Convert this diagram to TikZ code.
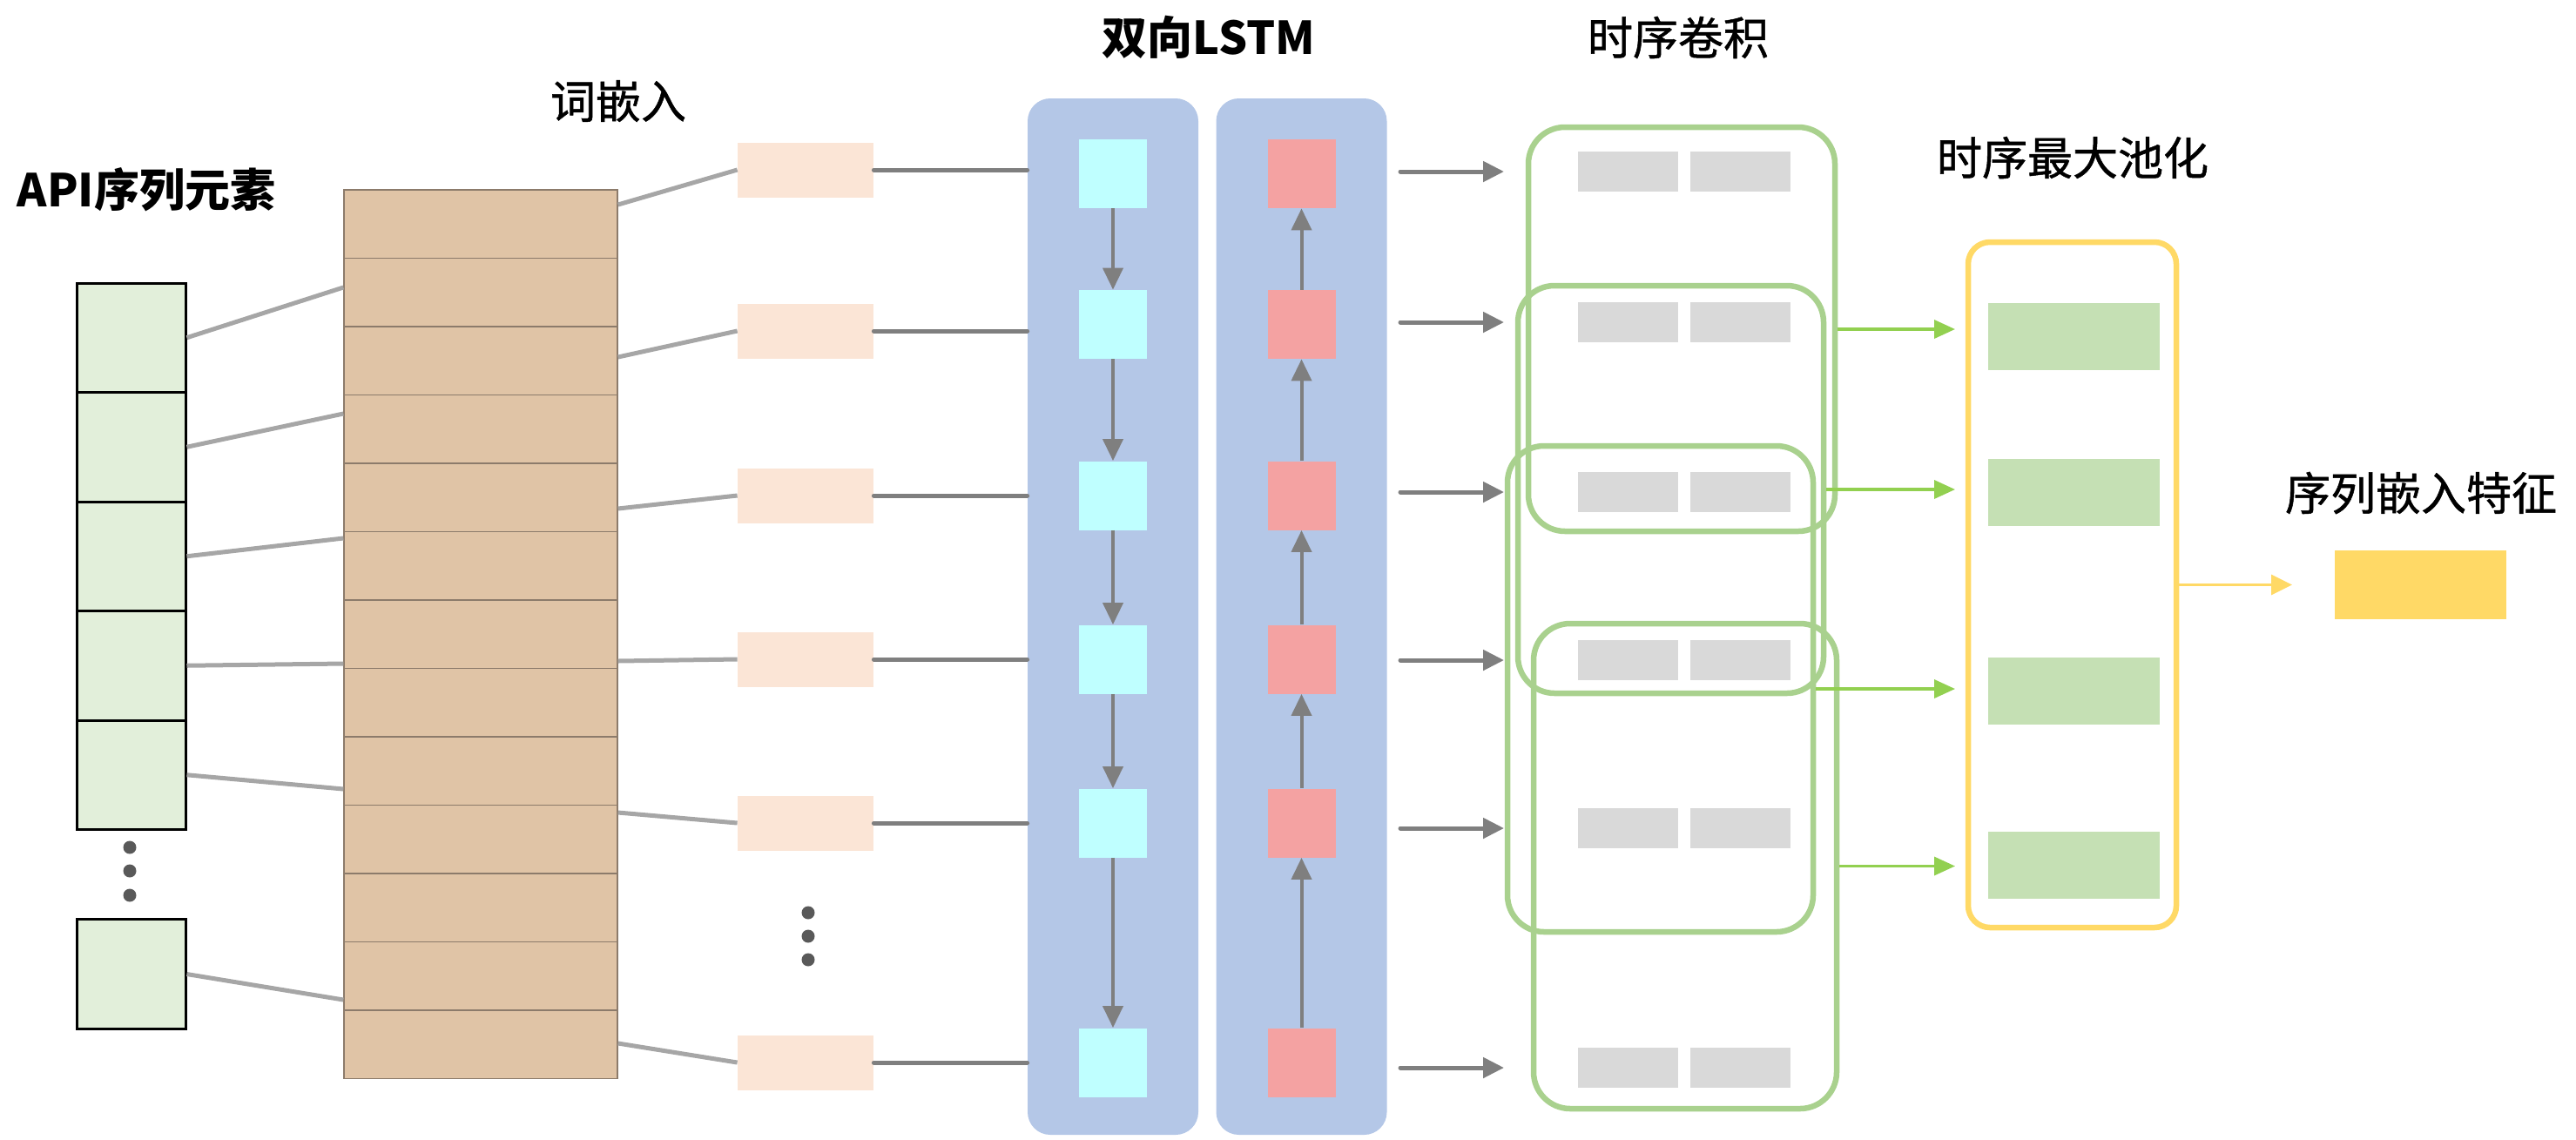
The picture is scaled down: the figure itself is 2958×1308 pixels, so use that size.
\documentclass[tikz,border=0pt]{standalone}
\usepackage{fontspec}
\setmainfont{Noto Sans CJK SC}
\newfontfamily\medcjk[FakeBold=1]{Noto Sans CJK SC}
\usetikzlibrary{arrows.meta,calc}
\definecolor{apigreen}{HTML}{E2EFDA}
\definecolor{embtan}{HTML}{E0C4A6}
\definecolor{embline}{HTML}{8C7B6B}
\definecolor{vecpeach}{HTML}{FBE5D6}
\definecolor{lstmblue}{HTML}{B4C7E7}
\definecolor{fwcyan}{HTML}{BFFFFF}
\definecolor{bwpink}{HTML}{F4A2A2}
\definecolor{convgray}{HTML}{D9D9D9}
\definecolor{wingreen}{HTML}{A9D18E}
\definecolor{arrgreen}{HTML}{92D050}
\definecolor{poolbar}{HTML}{C5E0B4}
\definecolor{poolyellow}{HTML}{FFD966}
\definecolor{linkgray}{HTML}{A6A6A6}
\definecolor{arrgray}{HTML}{7F7F7F}
\definecolor{dotgray}{HTML}{595959}
\tikzset{
  title/.style={font=\fontsize{26}{30}\selectfont\medcjk,inner sep=0pt},
  boldtitle/.style={font=\fontsize{26}{30}\selectfont\bfseries,inner sep=0pt},
  apicell/.style={draw=black,line width=1.5pt,fill=apigreen,minimum width=62.5pt,minimum height=62.75pt,inner sep=0pt},
  embrow/.style={draw=embline,line width=0.7pt,fill=embtan,minimum width=157pt,minimum height=39.25pt,inner sep=0pt},
  vec/.style={fill=vecpeach,minimum width=78pt,minimum height=31.5pt,inner sep=0pt},
  panel/.style={fill=lstmblue,rounded corners=13pt,minimum width=98pt,minimum height=595pt,inner sep=0pt},
  fwcell/.style={fill=fwcyan,minimum width=39pt,minimum height=39.5pt,inner sep=0pt},
  bwcell/.style={fill=bwpink,minimum width=39pt,minimum height=39.5pt,inner sep=0pt},
  convcell/.style={fill=convgray,minimum width=57.5pt,minimum height=23pt,inner sep=0pt},
  window/.style={draw=wingreen,line width=3.25pt,rounded corners=21pt,inner sep=0pt},
  poolbox/.style={draw=poolyellow,line width=3.25pt,rounded corners=12.5pt,minimum width=119.5pt,minimum height=393.5pt,inner sep=0pt},
  maxcell/.style={fill=poolbar,minimum width=98.5pt,minimum height=38.5pt,inner sep=0pt},
  link/.style={draw=linkgray,line width=2.5pt},
  feed/.style={draw=arrgray,line width=2.5pt,line cap=round},
  chain/.style={draw=arrgray,line width=2pt,-{Triangle[width=11.5pt,length=12.5pt]}},
  outarrow/.style={draw=arrgray,line width=2.5pt,line cap=round,-{Triangle[width=11.5pt,length=12pt]}},
  poolarrow/.style={draw=arrgreen,line width=1.75pt,-{Triangle[width=10.5pt,length=12pt]}},
  embarrow/.style={draw=poolyellow,line width=1.5pt,-{Triangle[width=11.5pt,length=12pt]}}
}
\begin{document}
\begin{tikzpicture}[x=0.5pt,y=-0.5pt]
  \useasboundingbox (0,0) rectangle (2958,1308);
  \node[boldtitle] (tapi) at (168,218) {API序列元素};
  \node[title] (temb) at (710,116) {词嵌入};
  \node[boldtitle] (tlstm) at (1388,43) {双向LSTM};
  \node[title] (tconv) at (1927,43) {时序卷积};
  \node[title] (tpool) at (2380,181) {时序最大池化};
  \node[title] (tout) at (2780,566) {序列嵌入特征};
  \foreach \y [count=\i] in {387.75,513.25,638.75,764.25,889.75,1118.5}
    \node[apicell] (a\i) at (150.5,\y) {};
  \foreach \y in {973,1000,1028} \fill[dotgray] (149,\y) circle (3.75pt);
  \foreach \i in {1,...,13}
    \node[embrow] (r\i) at (552,{218+78.5*(\i-0.5)}) {};
  \foreach \i/\y in {1/330,2/475,3/618,4/762,5/906,6/1148}
    \draw[link] (a\i.east) -- (r1.west |- 0,\y);
  \foreach \y [count=\i] in {195,380,569,757,945,1220}
    \node[vec] (v\i) at (925,\y) {};
  \foreach \y in {1048,1075,1102} \fill[dotgray] (928,\y) circle (3.75pt);
  \foreach \i/\y in {1/235,2/410,3/584,4/759,5/933,6/1198}
    \draw[link] (r1.east |- 0,\y) -- (v\i.west);
  \node[panel] (fw) at (1278,708) {};
  \node[panel] (bw) at (1494.5,708) {};
  \foreach \i in {1,...,6}
    \draw[feed] (v\i.east) -- (v\i.east -| fw.west);
  \foreach \y [count=\i] in {199.5,372.5,569,757,945,1220} {
    \node[fwcell] (f\i) at (1278,\y) {};
    \node[bwcell] (b\i) at (1494.5,\y) {};
  }
  \foreach \i/\j in {1/2,2/3,3/4,4/5,5/6} {
    \draw[chain] (f\i.south) -- (f\j.north);
    \draw[chain] (b\j.north) -- (b\i.south);
  }
  \foreach \y [count=\i] in {197,370,565,758,951,1226} {
    \node[convcell] (g\i) at (1869.5,\y) {};
    \node[convcell] (h\i) at (1998,\y) {};
  }
  \coordinate (cout) at (1608,0);
  \coordinate (cin) at (1727,0);
  \foreach \i in {1,...,6}
    \draw[outarrow] (cout |- g\i) -- (cin |- g\i);
  \node[window,minimum width=176pt,minimum height=232pt] (wa) at (1931,378) {};
  \node[window,minimum width=175.5pt,minimum height=234pt] (wb) at (1918.5,562) {};
  \node[window,minimum width=175.5pt,minimum height=279pt] (wc) at (1906.5,791) {};
  \node[window,minimum width=174pt,minimum height=278.5pt] (wd) at (1935,994.5) {};
  \node[poolbox] (pool) at (2379.5,671.5) {};
  \foreach \y [count=\i] in {386.5,565,793.5,993.5}
    \node[maxcell] (m\i) at (2381.5,\y) {};
  \coordinate (pin) at (2245,0);
  \foreach \w in {wa,wb,wc,wd}
    \draw[poolarrow] (\w.east) -- (\w.east -| pin);
  \node[fill=poolyellow,minimum width=98.5pt,minimum height=39.5pt,inner sep=0pt] (feat) at (2779.5,671.5) {};
  \coordinate (oin) at (2632,0);
  \draw[embarrow] (pool.east) -- (pool.east -| oin);
\end{tikzpicture}
\end{document}
